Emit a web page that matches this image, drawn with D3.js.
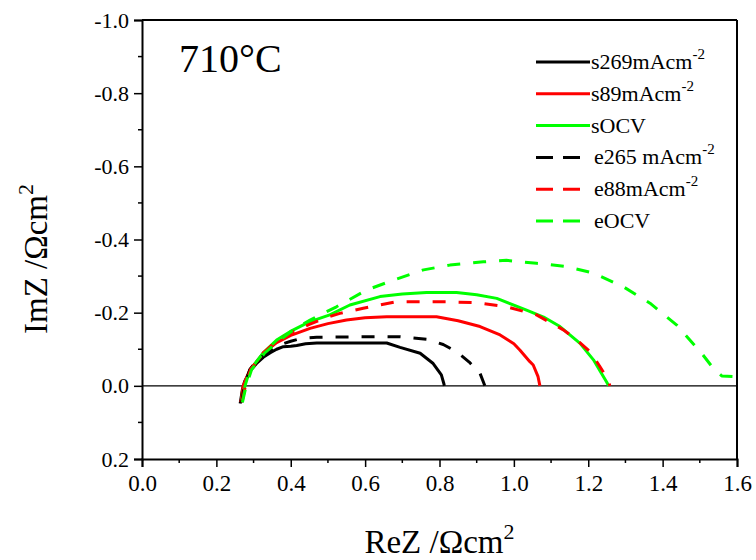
<!DOCTYPE html>
<html>
<head>
<meta charset="utf-8">
<script src="https://cdn.jsdelivr.net/npm/d3@7"></script>
<style>
  body { margin: 0; background: #fff; }
  text { font-family: "Liberation Serif", "Times New Roman", serif; fill: #000; }
</style>
</head>
<body>
<div id="chart"></div>
<script>
// Nyquist data: [ReZ, ImZ] in Ohm cm2
const s269 = [[0.264,0.048],[0.270,0.010],[0.276,-0.012],[0.290,-0.040],[0.308,-0.061],[0.326,-0.078],[0.344,-0.090],[0.362,-0.100],[0.380,-0.107],[0.400,-0.108],[0.416,-0.110],[0.440,-0.115],[0.470,-0.117],[0.550,-0.117],[0.658,-0.117],[0.694,-0.105],[0.748,-0.089],[0.783,-0.061],[0.805,-0.030],[0.812,-0.005],[0.813,0.0]];
const s89 = [[0.266,0.045],[0.272,0.0],[0.290,-0.043],[0.326,-0.089],[0.362,-0.118],[0.400,-0.138],[0.452,-0.157],[0.500,-0.170],[0.550,-0.180],[0.600,-0.186],[0.658,-0.189],[0.792,-0.189],[0.850,-0.178],[0.909,-0.162],[0.963,-0.139],[1.000,-0.115],[1.016,-0.098],[1.043,-0.066],[1.052,-0.057],[1.065,-0.025],[1.070,0.0]];
const sOCV = [[0.268,0.039],[0.277,0.0],[0.290,-0.043],[0.326,-0.090],[0.362,-0.125],[0.398,-0.148],[0.450,-0.175],[0.505,-0.194],[0.559,-0.221],[0.640,-0.244],[0.700,-0.251],[0.765,-0.255],[0.846,-0.255],[0.900,-0.249],[0.954,-0.239],[1.034,-0.207],[1.080,-0.188],[1.124,-0.162],[1.178,-0.116],[1.214,-0.071],[1.235,-0.035],[1.249,-0.011],[1.255,0.0]];
const e265 = [[0.268,0.045],[0.275,0.0],[0.290,-0.045],[0.310,-0.070],[0.340,-0.095],[0.370,-0.112],[0.400,-0.122],[0.430,-0.130],[0.470,-0.133],[0.600,-0.134],[0.694,-0.134],[0.765,-0.127],[0.810,-0.113],[0.846,-0.093],[0.880,-0.065],[0.909,-0.034],[0.922,0.0]];
const e88 = [[0.270,0.040],[0.278,0.0],[0.292,-0.045],[0.326,-0.090],[0.362,-0.122],[0.400,-0.145],[0.450,-0.168],[0.500,-0.188],[0.532,-0.198],[0.595,-0.212],[0.685,-0.230],[0.819,-0.230],[0.900,-0.227],[0.981,-0.216],[1.061,-0.194],[1.133,-0.153],[1.170,-0.125],[1.205,-0.093],[1.230,-0.055],[1.254,-0.016],[1.258,0.0]];
const eOCV = [[0.270,0.045],[0.280,0.0],[0.295,-0.045],[0.330,-0.090],[0.371,-0.125],[0.410,-0.155],[0.452,-0.180],[0.523,-0.216],[0.604,-0.262],[0.676,-0.289],[0.757,-0.317],[0.828,-0.330],[0.918,-0.339],[0.980,-0.343],[1.061,-0.335],[1.142,-0.326],[1.214,-0.308],[1.294,-0.271],[1.366,-0.226],[1.438,-0.166],[1.505,-0.089],[1.536,-0.048],[1.559,-0.027],[1.600,-0.025]];

const seriesNames = ['s269mAcm', 's89mAcm', 'sOCV', 'e265 mAcm', 'e88mAcm', 'eOCV'];
const seriesSup = ['-2', '-2', '', '-2', '-2', ''];
const seriesColors = ['#000000', '#ff0000', '#00ff00', '#000000', '#ff0000', '#00ff00'];
const seriesDashed = [false, false, false, true, true, true];
const seriesData = [s269, s89, sOCV, e265, e88, eOCV];

const xTicks = [0.0, 0.2, 0.4, 0.6, 0.8, 1.0, 1.2, 1.4, 1.6];
const xTickLabels = ['0.0', '0.2', '0.4', '0.6', '0.8', '1.0', '1.2', '1.4', '1.6'];
const yTicks = [-1.0, -0.8, -0.6, -0.4, -0.2, 0.0, 0.2];
const yTickLabels = ['-1.0', '-0.8', '-0.6', '-0.4', '-0.2', '0.0', '0.2'];
const xMinor = [0.1, 0.3, 0.5, 0.7, 0.9, 1.1, 1.3, 1.5];
const yMinor = [-0.9, -0.7, -0.5, -0.3, -0.1, 0.1];

const W = 756, H = 560;
const margin = { top: 20, right: 19, bottom: 101, left: 142 };
const width = W - margin.left - margin.right;
const height = H - margin.top - margin.bottom;

const svg = d3.select('#chart').append('svg')
    .attr('width', W)
    .attr('height', H);

const g = svg.append('g')
    .attr('transform', `translate(${margin.left},${margin.top})`);

const x = d3.scaleLinear().domain([0, 1.6]).range([0, width]);
const y = d3.scaleLinear().domain([-1.0, 0.2]).range([0, height]);

// clip for curves
svg.append('defs').append('clipPath').attr('id', 'clip')
    .append('rect').attr('width', width).attr('height', height);

// zero line
g.append('line')
    .attr('x1', 0).attr('x2', width)
    .attr('y1', y(0)).attr('y2', y(0))
    .attr('stroke', '#000').attr('stroke-width', 1.2);

const line = d3.line().x(d => x(d[0])).y(d => y(d[1]));

const curves = g.append('g').attr('clip-path', 'url(#clip)');
seriesData.forEach((data, i) => {
    curves.append('path')
        .datum(data)
        .attr('d', line)
        .attr('fill', 'none')
        .attr('stroke', seriesColors[i])
        .attr('stroke-width', 3)
        .attr('stroke-linejoin', 'round')
        .attr('stroke-dasharray', seriesDashed[i] ? '13,13' : null);
});

// axes
const xAxis = g.append('g')
    .attr('transform', `translate(0,${height})`)
    .call(d3.axisBottom(x).tickValues(xTicks).tickSize(8).tickPadding(8)
        .tickFormat((d, i) => xTickLabels[i]));
xAxis.append('g').selectAll('line').data(xMinor).enter().append('line')
    .attr('x1', d => x(d)).attr('x2', d => x(d))
    .attr('y1', 0).attr('y2', 4).attr('stroke', '#000').attr('stroke-width', 1.5);

const yAxis = g.append('g')
    .call(d3.axisLeft(y).tickValues(yTicks).tickSize(8).tickPadding(5)
        .tickFormat((d, i) => yTickLabels[i]));
yAxis.append('g').selectAll('line').data(yMinor).enter().append('line')
    .attr('y1', d => y(d)).attr('y2', d => y(d))
    .attr('x1', 0).attr('x2', -4).attr('stroke', '#000').attr('stroke-width', 1.5);

[xAxis, yAxis].forEach(a => {
    a.select('.domain').attr('stroke', '#000').attr('stroke-width', 2);
    a.selectAll('.tick line').attr('stroke', '#000').attr('stroke-width', 1.5);
    a.selectAll('.tick text')
        .style('font-family', '"Liberation Serif", "Times New Roman", serif')
        .attr('fill', '#000');
});
xAxis.selectAll('.tick text').style('font-size', '23px');
yAxis.selectAll('.tick text').style('font-size', '22px');

// top and right frame
g.append('line').attr('x1', 0).attr('x2', width).attr('y1', 0).attr('y2', 0)
    .attr('stroke', '#000').attr('stroke-width', 2);
g.append('line').attr('x1', width).attr('x2', width).attr('y1', 0).attr('y2', height)
    .attr('stroke', '#000').attr('stroke-width', 2);

// axis titles
const xt = svg.append('text')
    .attr('x', margin.left + width / 2).attr('y', 553)
    .attr('text-anchor', 'middle').attr('font-size', 33);
xt.append('tspan').text('ReZ /Ωcm');
xt.append('tspan').attr('font-size', 22).attr('dy', -14).text('2');

const yt = svg.append('text')
    .attr('transform', 'translate(47,259) rotate(-90)')
    .attr('text-anchor', 'middle').attr('font-size', 33);
yt.append('tspan').text('ImZ /Ωcm');
yt.append('tspan').attr('font-size', 22).attr('dy', -14).text('2');

// temperature label
svg.append('text')
    .attr('x', 179).attr('y', 72)
    .attr('font-size', 40).text('710°C');

// legend
const legend = svg.append('g');
seriesNames.forEach((name, i) => {
    const ly = 62 + i * 31.8;
    legend.append('line')
        .attr('x1', 536).attr('x2', 590)
        .attr('y1', ly).attr('y2', ly)
        .attr('stroke', seriesColors[i]).attr('stroke-width', 3)
        .attr('stroke-dasharray', seriesDashed[i] ? '17,10' : null);
    const t = legend.append('text')
        .attr('x', seriesDashed[i] ? 594 : 591).attr('y', ly + 7)
        .attr('font-size', 22);
    t.append('tspan').text(name);
    if (seriesSup[i]) {
        t.append('tspan').attr('font-size', 15).attr('dy', -10).text(seriesSup[i]);
    }
});
</script>
</body>
</html>
